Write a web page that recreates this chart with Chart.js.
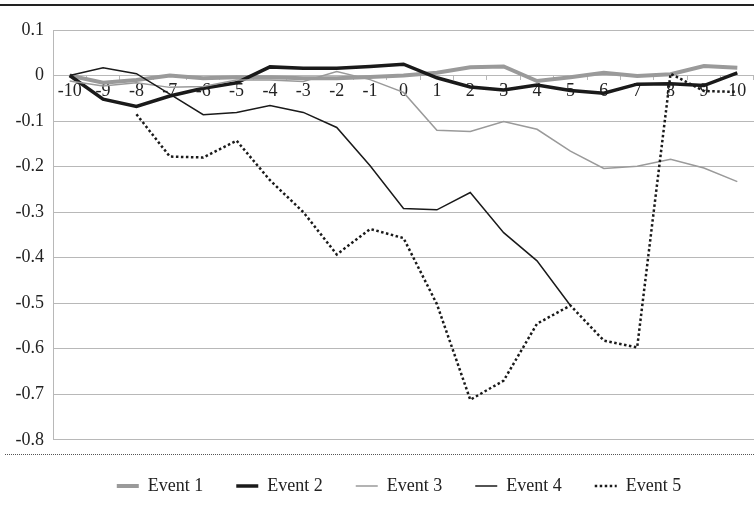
<!DOCTYPE html>
<html>
<head>
<meta charset="utf-8">
<script src="https://cdn.jsdelivr.net/npm/chart.js@4.4.1/dist/chart.umd.min.js"></script>
<style>
  body { margin: 0; background: #fff; }
  #wrap { width: 754px; height: 516px; position: relative; }
</style>
</head>
<body>
<div id="wrap"><canvas id="myChart"></canvas></div>
<script>
const labels = ['-10','-9','-8','-7','-6','-5','-4','-3','-2','-1','0','1','2','3','4','5','6','7','8','9','10'];

const event1 = [0, -0.016, -0.01, 0.0, -0.006, -0.004, -0.004, -0.006, -0.006, -0.003, 0.0, 0.006, 0.018, 0.02, -0.012, -0.004, 0.006, -0.001, 0.003, 0.021, 0.017];
const event2 = [0, -0.052, -0.068, -0.045, -0.028, -0.016, 0.019, 0.016, 0.016, 0.02, 0.025, -0.005, -0.025, -0.032, -0.021, -0.033, -0.039, -0.019, -0.018, -0.022, 0.006];
const event3 = [-0.012, -0.023, -0.016, -0.026, -0.024, -0.01, -0.01, -0.013, 0.009, -0.009, -0.037, -0.12, -0.123, -0.101, -0.118, -0.166, -0.204, -0.199, -0.184, -0.203, -0.233];
const event4 = [0, 0.017, 0.004, -0.041, -0.086, -0.081, -0.066, -0.081, -0.114, -0.198, -0.292, -0.295, -0.257, -0.345, -0.407, -0.505, null, null, null, null, null];
const event5 = [null, null, -0.085, -0.178, -0.18, -0.143, -0.23, -0.3, -0.393, -0.337, -0.357, -0.502, -0.712, -0.67, -0.545, -0.505, -0.582, -0.597, 0.004, -0.034, -0.036];

const FONT = "'Liberation Serif', 'DejaVu Serif', serif";
const GRID = '#b8b8b8';

// top rule and dotted separator above the legend
const frame = {
  id: 'frame',
  afterLayout(chart) {
    // legend sits a little right of centre in the original
    chart.legend.left += 22;
    chart.legend.right += 22;
  },
  afterDraw(chart) {
    const c = chart.ctx;
    c.save();
    c.strokeStyle = '#222';
    c.lineWidth = 2;
    c.beginPath();
    c.moveTo(0, 5);
    c.lineTo(chart.width, 5);
    c.stroke();
    c.strokeStyle = '#555';
    c.lineWidth = 1;
    c.setLineDash([1, 1]);
    c.beginPath();
    c.moveTo(5, 454.5);
    c.lineTo(chart.width, 454.5);
    c.stroke();
    c.restore();
  }
};

function line(label, data, color, width, order, dash) {
  return {
    label: label,
    data: data,
    borderColor: color,
    backgroundColor: color,
    borderWidth: width,
    borderDash: dash || [],
    pointRadius: 0,
    tension: 0,
    fill: false,
    order: order
  };
}

const ctx = document.getElementById('myChart');
new Chart(ctx, {
  type: 'line',
  data: {
    labels: labels,
    datasets: [
      line('Event 1', event1, '#9a9a9a', 4, 5),
      line('Event 2', event2, '#1a1a1a', 3.5, 4),
      line('Event 3', event3, '#9a9a9a', 1.5, 3),
      line('Event 4', event4, '#1a1a1a', 1.5, 2),
      line('Event 5', event5, '#1a1a1a', 2.5, 1, [2.5, 2.5])
    ]
  },
  options: {
    responsive: true,
    maintainAspectRatio: false,
    animation: false,
    layout: { padding: { top: 30, bottom: 11, left: 0, right: 0 } },
    plugins: {
      tooltip: { enabled: false },
      legend: {
        position: 'bottom',
        title: { display: true, text: '', font: { size: 1 }, padding: { top: 0, bottom: 3 } },
        labels: {
          usePointStyle: true,
          pointStyle: 'line',
          pointStyleWidth: 22,
          padding: 33,
          color: '#222',
          font: { family: FONT, size: 18 },
          sort: (a, b) => a.datasetIndex - b.datasetIndex,
          generateLabels: (chart) => {
            const items = Chart.defaults.plugins.legend.labels.generateLabels(chart);
            items.forEach((it) => {
              const ds = chart.data.datasets[it.datasetIndex];
              it.lineWidth = ds.borderWidth;
              it.lineDash = ds.borderDash;
              it.strokeStyle = ds.borderColor;
            });
            return items;
          }
        }
      }
    },
    scales: {
      x: {
        position: { y: 0 },
        offset: true,
        grid: { drawOnChartArea: false, offset: true, tickLength: 4, color: GRID },
        border: { color: GRID },
        ticks: { color: '#222', font: { family: FONT, size: 18 }, padding: 1, maxRotation: 0, autoSkip: false }
      },
      y: {
        min: -0.8,
        max: 0.1,
        afterFit: (scale) => { scale.width = 53; },
        grid: { color: GRID, drawTicks: false },
        border: { color: GRID },
        ticks: {
          stepSize: 0.1,
          padding: 9,
          color: '#222',
          font: { family: FONT, size: 18 },
          callback: (v) => {
            const r = Math.round(v * 10) / 10;
            return r === 0 ? '0' : r.toString();
          }
        }
      }
    }
  },
  plugins: [frame]
});
</script>
</body>
</html>
